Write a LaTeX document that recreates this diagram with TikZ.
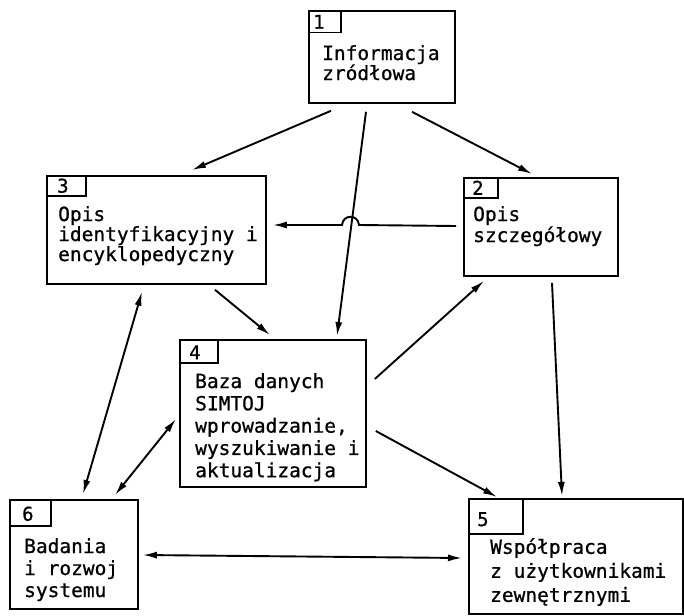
\documentclass[tikz,border=0pt]{standalone}
\usepackage{fontspec}
\newfontfamily\letter[FakeBold=0.8]{DejaVu Sans Mono}
\usetikzlibrary{arrows.meta}
\begin{document}
\begin{tikzpicture}[x=1pt,y=-1pt,
  box/.style={draw, line width=1.8pt, rectangle, inner sep=0pt, anchor=north west},
  numbox/.style={draw, line width=1.5pt, rectangle, inner sep=0pt, anchor=north west},
  num/.style={anchor=west, inner sep=0pt, font=\letter\fontsize{19}{20}\selectfont},
  txt/.style={anchor=north west, inner sep=0pt, align=left},
  tip/.tip={Latex[length=14pt,width=7pt]},
  arr/.style={line width=1.9pt, -tip},
  dbl/.style={line width=1.9pt, tip-tip}
]
\useasboundingbox (0,0) rectangle (684,615);

% main boxes
\node[box, minimum width=146pt, minimum height=92pt]  (b1) at (308,10)  {};
\node[box, minimum width=219pt, minimum height=108pt] (b3) at (46,175)  {};
\node[box, minimum width=154pt, minimum height=98pt]  (b2) at (463,177) {};
\node[box, minimum width=186pt, minimum height=147pt] (b4) at (179,339) {};
\node[box, minimum width=128pt, minimum height=109pt] (b6) at (9,499)   {};
\node[box, minimum width=214pt, minimum height=115pt] (b5) at (468,498) {};

% number tabs
\node[numbox, minimum width=32pt, minimum height=22pt] (l1) at (b1.north west) {};
\node[numbox, minimum width=39pt, minimum height=20pt] (l3) at (b3.north west) {};
\node[numbox, minimum width=34pt, minimum height=20pt] (l2) at (b2.north west) {};
\node[numbox, minimum width=38pt, minimum height=23pt] (l4) at (b4.north west) {};
\node[numbox, minimum width=41pt, minimum height=26pt] (l6) at (b6.north west) {};
\node[numbox, minimum width=54pt, minimum height=35pt] (l5) at (b5.north west) {};

\node[num] (n1) at ([shift={(5,0)}]l1.west) {1};
\node[num] (n3) at ([shift={(11,0)}]l3.west) {3};
\node[num] (n2) at ([shift={(9,0)}]l2.west) {2};
\node[num] (n4) at ([shift={(10,1)}]l4.west) {4};
\node[num] (n6) at ([shift={(13,1)}]l6.west) {6};
\node[num] (n5) at ([shift={(9,3)}]l5.west) {5};

% box texts
\node[txt, font=\letter\fontsize{19.5}{20}\selectfont] (t1) at (322,45)
  {Informacja\\zródłowa};
\node[txt, font=\letter\fontsize{19.5}{20}\selectfont] (t3) at (58,206)
  {Opis\\identyfikacyjny i\\encyklopedyczny};
\node[txt, font=\letter\fontsize{19.5}{21}\selectfont] (t2) at (473,206)
  {Opis\\szczegółowy};
\node[txt, font=\letter\fontsize{19.5}{22.3}\selectfont] (t4) at (195,373)
  {Baza danych\\SIMTOJ\\wprowadzanie,\\wyszukiwanie i\\aktualizacja};
\node[txt, font=\letter\fontsize{19.5}{22}\selectfont] (t6) at (24,538)
  {Badania\\i rozwoj\\systemu};
\node[txt, font=\letter\fontsize{19.5}{24}\selectfont] (t5) at (490,538)
  {Współpraca\\z użytkownikami\\zewnętrznymi};

% connectors
\draw[arr] ([shift={(23,7)}]b1.south west)  -- ([shift={(146,-5)}]b3.north west);
\draw[arr] ([shift={(58,8)}]b1.south west)  -- ([shift={(158,-3)}]b4.north west);
\draw[arr] ([shift={(104,8)}]b1.south west) -- ([shift={(69,-3)}]b2.north west);
% 2 -> 3, hopping over the 1 -> 4 line
\draw[arr] ([shift={(-7,49)}]b2.north west) -- (359,225)
  .. controls (358,214) and (343,214) .. (342,225)
  -- ([shift={(6,50)}]b3.north east);
\draw[arr] ([shift={(169,5)}]b3.south west) -- ([shift={(91,-4)}]b4.north west);
\draw[arr] ([shift={(8,40)}]b4.north east)  -- ([shift={(21,4)}]b2.south west);
\draw[arr] ([shift={(9,92)}]b4.north east)  -- ([shift={(29,-1)}]b5.north west);
\draw[arr] ([shift={(89,6)}]b2.south west)  -- ([shift={(94,-2)}]b5.north west);
\draw[dbl] ([shift={(96,7)}]b3.south west)  -- ([shift={(74,-5)}]b6.north west);
\draw[dbl] ([shift={(-3,80)}]b4.north west) -- ([shift={(106,-4)}]b6.north west);
\draw[dbl] ([shift={(4,56)}]b6.north east)  -- ([shift={(-6,60)}]b5.north west);
\end{tikzpicture}
\end{document}
